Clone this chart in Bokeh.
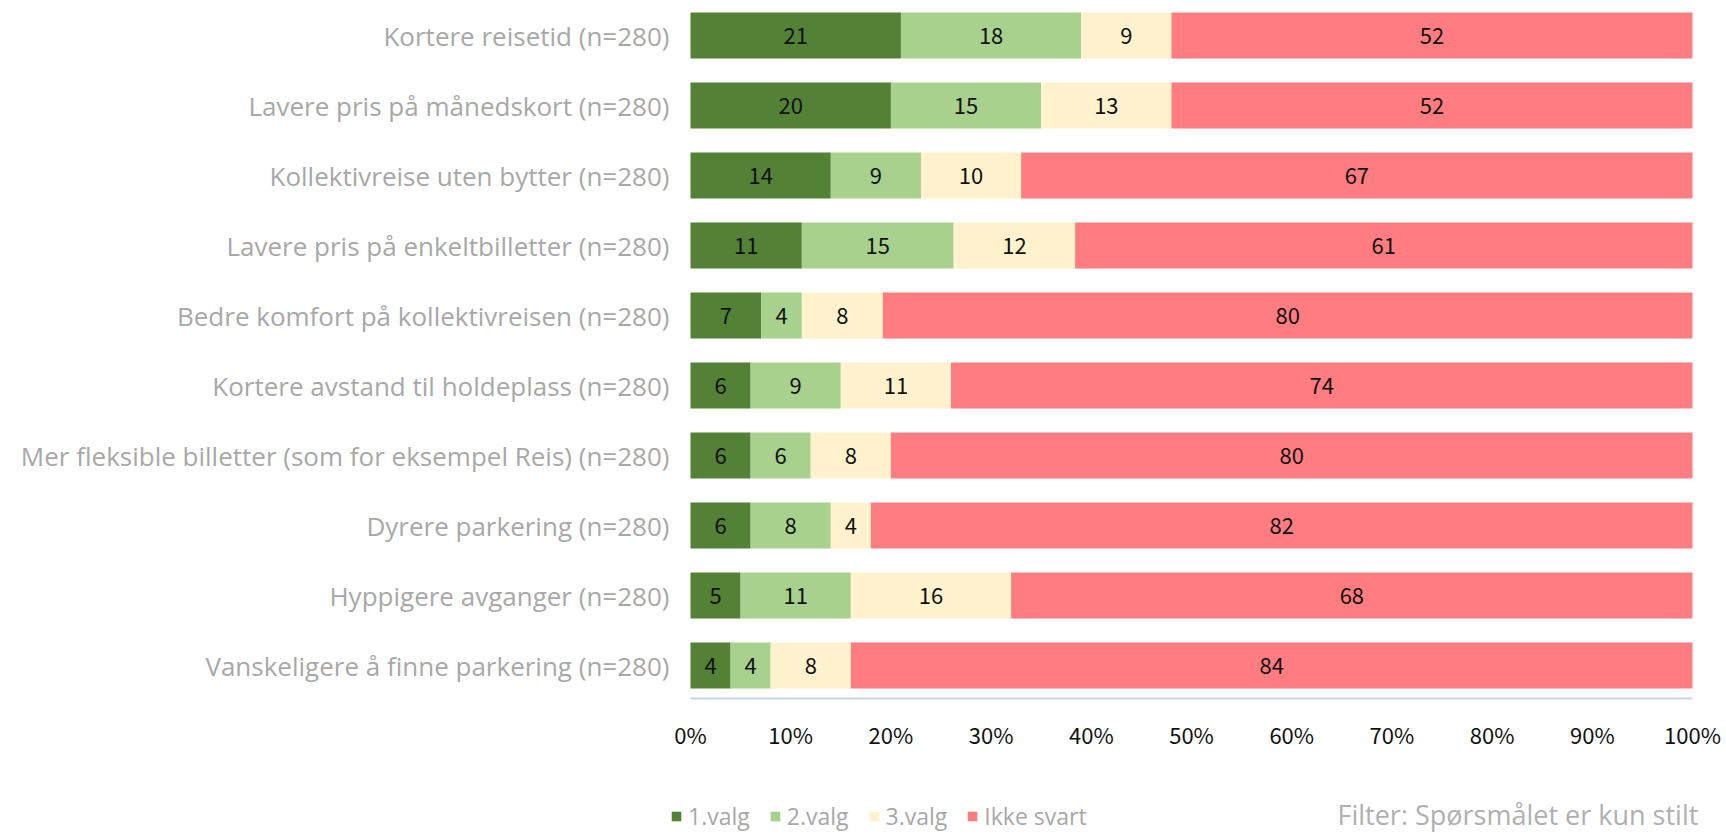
from bokeh.plotting import figure
from bokeh.models import ColumnDataSource, Range1d, FixedTicker, Legend, LegendItem, Label
from bokeh.core.properties import value
from bokeh.embed import file_html
from bokeh.resources import INLINE

categories = [
    "Kortere reisetid (n=280)",
    "Lavere pris på månedskort (n=280)",
    "Kollektivreise uten bytter (n=280)",
    "Lavere pris på enkeltbilletter (n=280)",
    "Bedre komfort på kollektivreisen (n=280)",
    "Kortere avstand til holdeplass (n=280)",
    "Mer fleksible billetter (som for eksempel Reis) (n=280)",
    "Dyrere parkering (n=280)",
    "Hyppigere avganger (n=280)",
    "Vanskeligere å finne parkering (n=280)",
]
valg1 = [21, 20, 14, 11, 7, 6, 6, 6, 5, 4]
valg2 = [18, 15, 9, 15, 4, 9, 6, 8, 11, 4]
valg3 = [9, 13, 10, 12, 8, 11, 8, 4, 16, 8]
ikke_svart = [52, 52, 67, 61, 80, 74, 80, 82, 68, 84]
series_names = ["1.valg", "2.valg", "3.valg", "Ikke svart"]
colors = ["#538135", "#a9d18e", "#fff2cc", "#ff7c80"]
x_ticks = [0, 10, 20, 30, 40, 50, 60, 70, 80, 90, 100]
x_tick_labels = ["0%", "10%", "20%", "30%", "40%", "50%", "60%", "70%", "80%", "90%", "100%"]
filter_text = "Filter: Spørsmålet er kun stilt"

LABEL_FONT = "Open Sans"
NUM_FONT = "Noto Sans CJK JP"
GRAY = "#a8a8a8"

n = len(categories)
ypos = [n - 1 - i for i in range(n)]
series = [valg1, valg2, valg3, ikke_svart]

# frame spans x: 670..1726 px, y: 0..834 px  (10.02 px per %, 70 px per row)
p = figure(width=1726, height=834, x_range=Range1d(-1.996, 103.39), y_range=Range1d(-2.414, 9.5),
           output_backend="svg", toolbar_location=None,
           min_border_left=670, min_border_right=0, min_border_top=0, min_border_bottom=0)
p.outline_line_color = None
p.xgrid.visible = False
p.ygrid.visible = False

legend_items = []
lefts = [0.0] * n
totals = [sum(s[i] for s in series) for i in range(n)]
for name, vals, col in zip(series_names, series, colors):
    widths = [vals[i] / totals[i] * 100 for i in range(n)]
    rights = [lefts[i] + widths[i] for i in range(n)]
    src = ColumnDataSource(dict(y=ypos, left=lefts, right=rights,
                                mid=[(lefts[i] + rights[i]) / 2 for i in range(n)],
                                txt=[str(v) for v in vals]))
    r = p.hbar(y="y", left="left", right="right", height=0.657, source=src,
               fill_color=col, line_color=None)
    p.text(x="mid", y="y", text="txt", source=src, text_align="center", text_baseline="middle",
           text_font=value(NUM_FONT), text_font_size="22px", text_color="#111111")
    legend_items.append(LegendItem(label=name, renderers=[r]))
    lefts = rights

# y axis (categories)
p.yaxis.ticker = FixedTicker(ticks=ypos)
p.yaxis.major_label_overrides = {ypos[i]: categories[i] for i in range(n)}
p.yaxis.axis_line_color = None
p.yaxis.major_tick_line_color = None
p.yaxis.minor_tick_line_color = None
p.yaxis.major_label_standoff = -5
p.yaxis.major_label_text_font = LABEL_FONT
p.yaxis.major_label_text_font_size = "26px"
p.yaxis.major_label_text_color = GRAY

# x axis drawn at a fixed place inside the frame
p.xaxis.fixed_location = -0.471
p.xaxis.bounds = (0, 100)
p.xaxis.ticker = FixedTicker(ticks=x_ticks)
p.xaxis.major_label_overrides = {x_ticks[i]: x_tick_labels[i] for i in range(len(x_ticks))}
p.xaxis.axis_line_color = "#c9d5e4"
p.xaxis.axis_line_width = 2
p.xaxis.major_tick_line_color = None
p.xaxis.minor_tick_line_color = None
p.xaxis.major_label_standoff = 14
p.xaxis.major_label_text_font = NUM_FONT
p.xaxis.major_label_text_font_size = "22px"
p.xaxis.major_label_text_color = "#111111"

legend = Legend(items=legend_items, location=(0, 2), orientation="horizontal",
                glyph_width=12, glyph_height=12, label_standoff=6, spacing=19, padding=0, margin=0,
                border_line_color=None, background_fill_alpha=0,
                label_text_font=LABEL_FONT, label_text_font_size="23px", label_text_color=GRAY)
p.add_layout(legend)

p.add_layout(Label(x=667, y=20, x_units="screen", y_units="screen", text=filter_text,
                   text_font=LABEL_FONT, text_font_size="27px", text_color="#b0b0b0",
                   text_baseline="middle"))

open("out.html", "w").write(file_html(p, INLINE))
